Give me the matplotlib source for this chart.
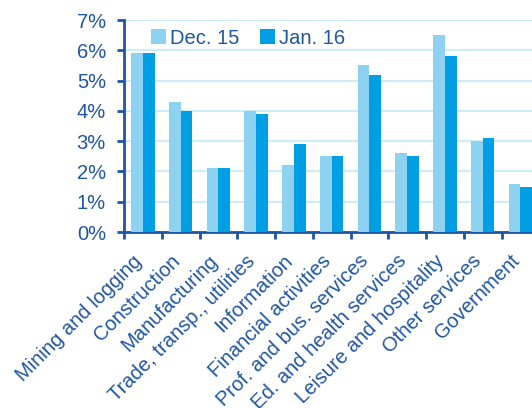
import numpy as np
import matplotlib
matplotlib.use("Agg")
import matplotlib.pyplot as plt
from matplotlib.ticker import FixedLocator, PercentFormatter

plt.rcParams["font.family"] = ["Liberation Sans", "DejaVu Sans"]

categories = ["Mining and logging", "Construction", "Manufacturing",
              "Trade, transp., utilities", "Information", "Financial activities",
              "Prof. and bus. services", "Ed. and health services",
              "Leisure and hospitality", "Other services", "Government"]
dec15 = [5.9, 4.3, 2.1, 4.0, 2.2, 2.5, 5.5, 2.6, 6.5, 3.0, 1.6]
jan16 = [5.9, 4.0, 2.1, 3.9, 2.9, 2.5, 5.2, 2.5, 5.8, 3.1, 1.5]
series_labels = ["Dec. 15", "Jan. 16"]

LIGHT = "#8ED2F2"
DARK = "#009FE3"
TEXT = "#1F55A5"
GRID = "#CDEBF8"

fig = plt.figure(figsize=(5.32, 4.08), dpi=100)
W, H = 532, 408
left, right = 124 / W, (124 + 11 * 37.75) / W
bottom, top = 1 - 232 / H, 1 - 20 / H
ax = fig.add_axes([left, bottom, right - left, top - bottom])

x = np.arange(len(categories))
w = 0.31
ax.bar(x - w / 2, dec15, w, color=LIGHT, label=series_labels[0], zorder=3)
ax.bar(x + w / 2, jan16, w, color=DARK, label=series_labels[1], zorder=3)

ax.set_xlim(-0.5, len(categories) - 0.5)
ax.set_ylim(0, 7)
ax.yaxis.set_major_locator(FixedLocator(np.arange(0, 8)))
ax.yaxis.set_major_formatter(PercentFormatter(decimals=0))
ax.grid(axis="y", color=GRID, lw=1.5, zorder=0)

# labels sit a little left of the group centre, like the original
ax.set_xticks(x - 0.28)
ax.set_xticklabels(categories, rotation=45, ha="right", rotation_mode="anchor",
                   fontsize=14.5, color=TEXT)
ax.xaxis.set_minor_locator(FixedLocator(np.arange(-0.5, len(categories), 1)))
ax.tick_params(axis="x", which="major", length=0, pad=14)
ax.tick_params(axis="x", which="minor", length=5, width=2, color=TEXT, direction="out")
ax.tick_params(axis="y", length=5, width=2, color=TEXT, labelsize=14.5,
               labelcolor=TEXT, pad=8)

for s in ["top", "right"]:
    ax.spines[s].set_visible(False)
for s in ["left", "bottom"]:
    ax.spines[s].set_color(TEXT)
    ax.spines[s].set_linewidth(2)

leg = ax.legend(ncol=2, frameon=False, loc="center left", bbox_to_anchor=(0.065, 0.915),
                fontsize=14.5, handlelength=0.75, handleheight=0.75, handletextpad=0.2,
                columnspacing=1.0, borderaxespad=0, borderpad=0)
for t in leg.get_texts():
    t.set_color(TEXT)

fig.savefig("out.png", dpi=100)
